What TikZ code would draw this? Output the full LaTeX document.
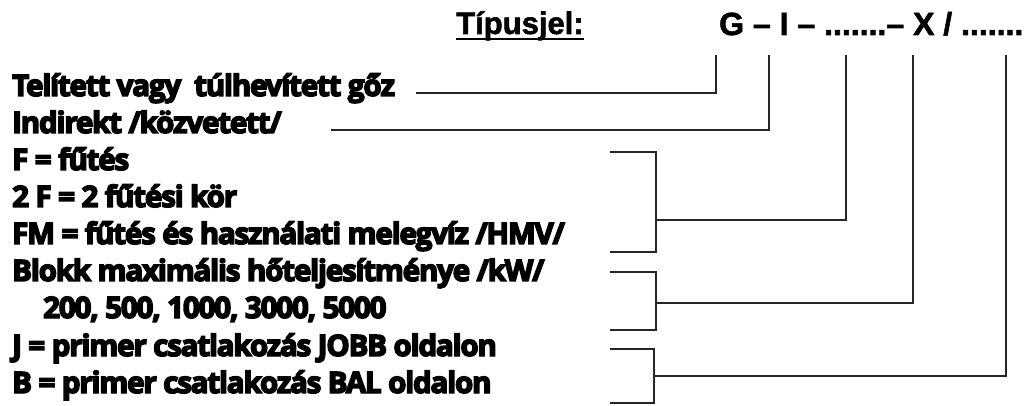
\documentclass[tikz,border=0pt]{standalone}
\usepackage{fontspec}
\newfontfamily\mf{Open Sans}[BoldFeatures={FakeBold=5}, LetterSpace=-4]
\newfontfamily\hf{Liberation Sans}[BoldFeatures={FakeBold=1.8}]
\begin{document}
\begin{tikzpicture}[x=1pt,y=-1pt,
  lbl/.style={anchor=base west, inner sep=0pt, font=\mf\bfseries\fontsize{29.5}{29.5}\selectfont},
  hdr/.style={anchor=base west, inner sep=0pt, font=\hf\bfseries\fontsize{31}{31}\selectfont},
  conn/.style={line width=1.3pt, black!85}]
\useasboundingbox (0,0) rectangle (1034,406);
% header
\node[hdr] (tip) at (456,34) {Típusjel:};
\draw[line width=2pt] (tip.base west) ++(0,5) coordinate (u1) -- (u1 -| tip.base east);
\node[hdr, font=\hf\bfseries\fontsize{32}{32}\selectfont] (code) at (719,35) {G – I – .......– X / .......};
% labels
\node[lbl] (t1) at (12,96) {Telített vagy\ \ túlhevített gőz};
\node[lbl] (t2) at (12,133) {Indirekt /közvetett/};
\node[lbl] (t3) at (12,170) {F = fűtés};
\node[lbl] (t4) at (12,207) {2 F = 2 fűtési kör};
\node[lbl] (t5) at (12,244) {FM = fűtés és használati melegvíz /HMV/};
\node[lbl] (t6) at (12,281) {Blokk maximális hőteljesítménye /kW/};
\node[lbl] (t7) at (43,318) {200, 500, 1000, 3000, 5000};
\node[lbl] (t8) at (12,356) {J = primer csatlakozás JOBB oldalon};
\node[lbl] (t9) at (12,393) {B = primer csatlakozás BAL oldalon};
% coordinates
\coordinate (sG) at (716,55);
\coordinate (sI) at (769,55);
\coordinate (sF) at (846,55);
\coordinate (sX) at (913,55);
\coordinate (sB) at (1006,55);
\coordinate (a1) at (416,93);
\coordinate (a2) at (331,130);
\coordinate (f1) at (610,152);
\coordinate (f2) at (610,252);
\coordinate (fm) at (656,220);
\coordinate (k1) at (610,272);
\coordinate (k2) at (610,330);
\coordinate (km) at (656,303);
\coordinate (j1) at (610,349);
\coordinate (j2) at (610,403);
\coordinate (jm) at (654,376);
% connectors
\draw[conn] (a1) -- (a1 -| sG) -- (sG);
\draw[conn] (a2) -- (a2 -| sI) -- (sI);
\draw[conn] (f1) -- (f1 -| fm) -- (f2 -| fm) -- (f2);
\draw[conn] (fm) -- (fm -| sF) -- (sF);
\draw[conn] (k1) -- (k1 -| km) -- (k2 -| km) -- (k2);
\draw[conn] (km) -- (km -| sX) -- (sX);
\draw[conn] (j1) -- (j1 -| jm) -- (j2 -| jm) -- (j2);
\draw[conn] (jm) -- (jm -| sB) -- (sB);
\end{tikzpicture}
\end{document}
